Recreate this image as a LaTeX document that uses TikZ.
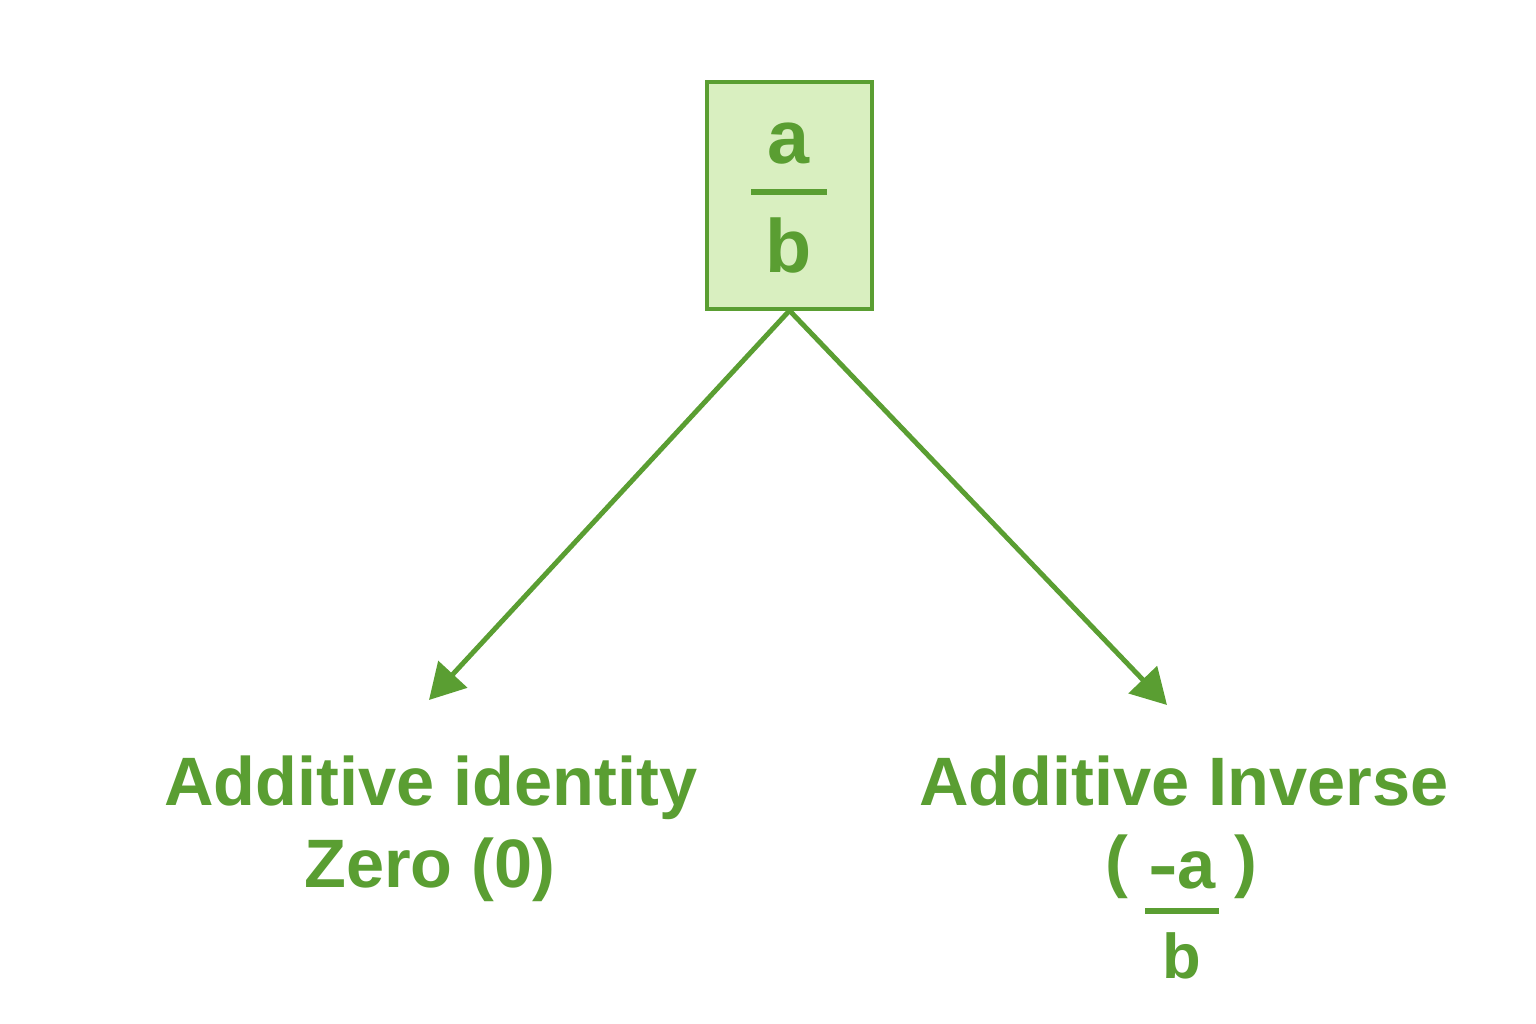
\documentclass[tikz,border=0pt]{standalone}
\usepackage{fontspec}
\setmainfont{Liberation Sans}
\usetikzlibrary{arrows.meta}
\definecolor{leaf}{RGB}{90,158,50}
\definecolor{leaffill}{RGB}{217,239,192}
\begin{document}
\begin{tikzpicture}[x=0.02cm,y=-0.02cm,
  lbl/.style={text=leaf,font=\fontsize{39}{47}\selectfont\bfseries,anchor=base,inner sep=0pt},
  big/.style={text=leaf,font=\fontsize{43}{50}\selectfont\bfseries,anchor=base,inner sep=0pt},
  conn/.style={draw=leaf,line width=2.8pt,-{Triangle[length=20pt,width=22pt]}},
  bar/.style={draw=leaf,line width=3.6pt}]
\useasboundingbox (0,0) rectangle (1536,1024);
\fill[white] (0,0) rectangle (1536,1024);
% top box
\node[draw=leaf,fill=leaffill,line width=1.8pt,minimum width=3.3cm,minimum height=4.54cm,inner sep=0pt] (box) at (789.5,195.5) {};
\node[big] (na) at (789,164) {a};
\node[big] (nb) at (789,273) {b};
\draw[bar] (751,192) -- (827,192);
% arrows
\coordinate (tipL) at (429,700);
\coordinate (tipR) at (1167,705);
\draw[conn] (box.south) -- (tipL);
\draw[conn] (box.south) -- (tipR);
% left label
\node[lbl] (l1) at (431,805) {Additive identity};
\node[lbl] (l2) at (430,887) {Zero (0)};
% right label
\node[lbl] (r1) at (1184,805) {Additive Inverse};
\node[lbl] (rpl) at (1117,884) {(};
\node[lbl] (rpr) at (1246,884) {)};
\node[lbl] (rna) at (1182,888) {\scalebox{1.3}[1]{-}a};
\draw[bar] (1145,911) -- (1219,911);
\node[text=leaf,font=\fontsize{36}{44}\selectfont\bfseries,anchor=base,inner sep=0pt] (rnb) at (1182,978) {b};
\end{tikzpicture}
\end{document}
